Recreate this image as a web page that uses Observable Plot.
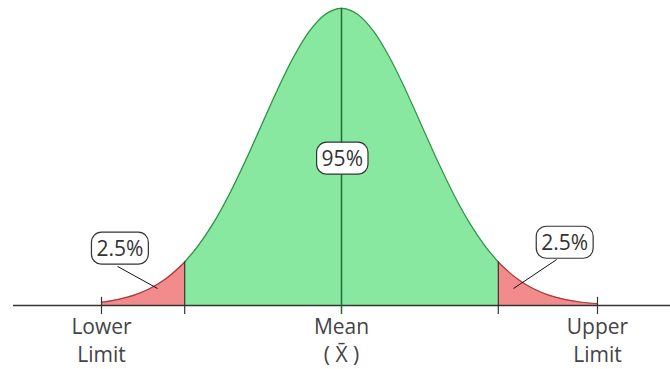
<!DOCTYPE html>
<html>
<head>
<meta charset="utf-8">
<script src="https://cdn.jsdelivr.net/npm/d3@7"></script>
<script src="https://cdn.jsdelivr.net/npm/@observablehq/plot@0.6"></script>
<style>
  html, body { margin: 0; padding: 0; background: #fff; }
  svg { display: block; }
</style>
</head>
<body>
<div id="chart"></div>
<script>
// Curve (x in standard-deviation units, y as density)
const zValues = [-3.0, -2.8, -2.6, -2.4, -2.2, -2.0, -1.96, -1.8, -1.6, -1.4, -1.2, -1.0, -0.8, -0.6, -0.4, -0.2, 0,
                 0.2, 0.4, 0.6, 0.8, 1.0, 1.2, 1.4, 1.6, 1.8, 1.96, 2.0, 2.2, 2.4, 2.6, 2.8, 3.0, 3.2];
const density = [0.0044, 0.0079, 0.0136, 0.0224, 0.0355, 0.0540, 0.0584, 0.0790, 0.1109, 0.1497, 0.1942, 0.2420, 0.2897, 0.3332, 0.3683, 0.3910, 0.3989,
                 0.3910, 0.3683, 0.3332, 0.2897, 0.2420, 0.1942, 0.1497, 0.1109, 0.0790, 0.0584, 0.0540, 0.0355, 0.0224, 0.0136, 0.0079, 0.0044, 0.0024];
const cutLow = -1.96;
const cutHigh = 1.96;
const peak = 0.3989;

const tickPositions = [-3.0, -1.96, 0, 1.96, 3.2];
const tickLabels = ["Lower\nLimit", "", "Mean\n( X\u0304 )", "", "Upper\nLimit"];

const areaLabels = ["2.5%", "95%", "2.5%"];
const areaLabelX = [-2.77, 0.01, 2.79];
const areaLabelY = [0.0752, 0.196, 0.0832];

const leaderX1 = [-2.8, 2.69];
const leaderY1 = [0.0525, 0.0617];
const leaderX2 = [-2.3, 2.15];
const leaderY2 = [0.0228, 0.0228];

const curve = zValues.map((z, i) => ({z, d: density[i]}));
const leftTail = curve.filter(p => p.z <= cutLow);
const middle = curve.filter(p => p.z >= cutLow && p.z <= cutHigh);
const rightTail = curve.filter(p => p.z >= cutHigh);
const ticks = tickPositions.map((z, i) => ({z, label: tickLabels[i]}));
const labels = areaLabels.map((t, i) => ({t, x: areaLabelX[i], y: areaLabelY[i]}));
const leaders = leaderX1.map((x, i) => ({x1: x, y1: leaderY1[i], x2: leaderX2[i], y2: leaderY2[i]}));
const cutHeight = density[zValues.indexOf(cutLow)];

const green = "#88e8a0", greenLine = "#2f8f47";
const red = "#f28c8c", redLine = "#a83a3a";

const chart = Plot.plot({
  width: 670,
  height: 369,
  marginLeft: 21,
  marginRight: 9,
  marginTop: 7,
  marginBottom: 64,
  x: {domain: [-4, 4], axis: null},
  y: {domain: [0, 0.4], axis: null},
  style: {fontFamily: "'Open Sans', 'Noto Sans', sans-serif", background: "#fff", overflow: "visible"},
  marks: [
    Plot.areaY(leftTail, {x: "z", y: "d", fill: red, curve: "catmull-rom"}),
    Plot.areaY(middle, {x: "z", y: "d", fill: green, curve: "catmull-rom"}),
    Plot.areaY(rightTail, {x: "z", y: "d", fill: red, curve: "catmull-rom"}),
    Plot.lineY(middle, {x: "z", y: "d", stroke: greenLine, strokeWidth: 1.2, curve: "catmull-rom"}),
    Plot.lineY(leftTail, {x: "z", y: "d", stroke: redLine, strokeWidth: 1.2, curve: "catmull-rom"}),
    Plot.lineY(rightTail, {x: "z", y: "d", stroke: redLine, strokeWidth: 1.2, curve: "catmull-rom"}),
    Plot.ruleY([0], {x1: -4.1, x2: 4.2, stroke: "#333", strokeWidth: 1.5}),
    Plot.ruleX([0], {y1: -0.012, y2: peak, stroke: "#1f6e33", strokeWidth: 1.5}),
    Plot.ruleX(ticks.filter(t => t.z !== 0), {x: "z", y1: -0.012, y2: t => (Math.abs(t.z) === cutHigh ? cutHeight : 0.011), stroke: "#333", strokeWidth: 1.2}),
    Plot.text(ticks.filter(t => t.label), {x: "z", y: 0, text: "label", lineAnchor: "top", dy: 9, lineHeight: 1.33, fontSize: 21, fill: "#444"}),
    Plot.link(leaders, {x1: "x1", y1: "y1", x2: "x2", y2: "y2", stroke: "#111", strokeWidth: 1}),
    Plot.text(labels, {x: "x", y: "y", text: "t", fontSize: 21, fill: "#333"})
  ]
});

document.getElementById("chart").appendChild(chart);

// Draw rounded boxes behind the area labels
const labelSet = new Set(areaLabels);
const svgNS = "http://www.w3.org/2000/svg";
Array.from(chart.querySelectorAll("text")).forEach(function(node) {
  if (!labelSet.has(node.textContent.trim())) return;
  const b = node.getBBox();
  const padX = 5, padY = 2;
  const rect = document.createElementNS(svgNS, "rect");
  rect.setAttribute("x", b.x - padX);
  rect.setAttribute("y", b.y - padY);
  rect.setAttribute("width", b.width + 2 * padX);
  rect.setAttribute("height", b.height + 2 * padY);
  rect.setAttribute("rx", 10);
  rect.setAttribute("ry", 10);
  rect.setAttribute("fill", "#fff");
  rect.setAttribute("stroke", "#333");
  rect.setAttribute("stroke-width", 1.2);
  const tr = node.getAttribute("transform");
  if (tr) rect.setAttribute("transform", tr);
  node.parentNode.insertBefore(rect, node);
});
</script>
</body>
</html>
